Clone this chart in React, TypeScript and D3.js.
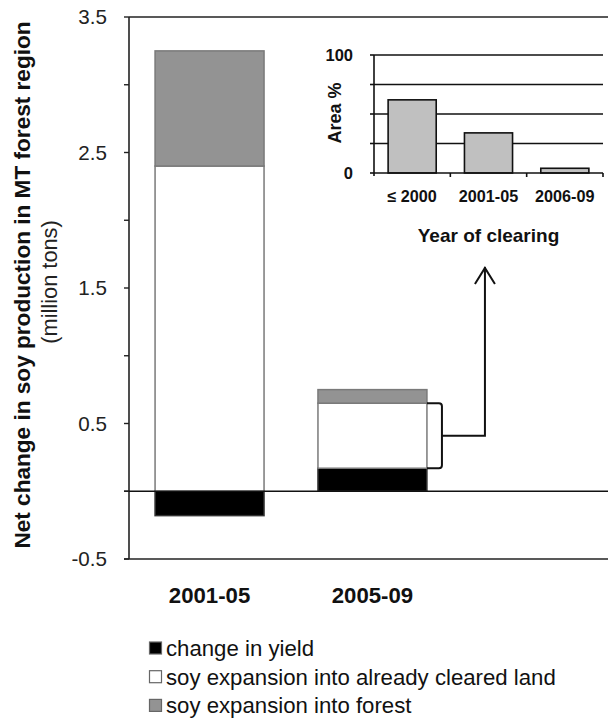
import React from "react";
import * as d3 from "d3";

// ---- Data ----
const periods = ["2001-05", "2005-09"];
const seriesKeys = ["yield", "cleared", "forest"];
const seriesLabels = [
  "change in yield",
  "soy expansion into already cleared land",
  "soy expansion into forest",
];
const yieldChange = [-0.18, 0.17];
const clearedExpansion = [2.4, 0.48];
const forestExpansion = [0.85, 0.1];
const yTicksMajor = [-0.5, 0.5, 1.5, 2.5, 3.5];
const yTicksAll = [-0.5, 0, 0.5, 1, 1.5, 2, 2.5, 3, 3.5];

const insetCategories = ["\u2264 2000", "2001-05", "2006-09"];
const insetValues = [62, 34, 4];
const insetTicks = [0, 25, 50, 75, 100];
const insetTickLabels = [0, 100];

const FONT = "Arial, 'Liberation Sans', Helvetica, sans-serif";
const seriesFill = ["#000000", "#ffffff", "#939393"];
const seriesStroke = ["#333333", "#7a7a7a", "#7a7a7a"];

export default function App() {
  const W = 608;
  const H = 719;

  const y = d3.scaleLinear().domain([-0.5, 3.5]).range([559, 17]);
  const x = d3
    .scaleBand<string>()
    .domain(periods)
    .range([129, 453])
    .paddingInner(0.331)
    .paddingOuter(0.16);

  const table = periods.map((p, i) => ({
    period: p,
    yield: yieldChange[i],
    cleared: clearedExpansion[i],
    forest: forestExpansion[i],
  }));
  const stacked = d3
    .stack<any>()
    .keys(seriesKeys)
    .offset(d3.stackOffsetDiverging)(table);

  // inset scales
  const iy = d3.scaleLinear().domain([0, 100]).range([173, 55]);
  const ix = d3
    .scaleBand<string>()
    .domain(insetCategories)
    .range([374, 603])
    .paddingInner(0.37)
    .paddingOuter(0.185);

  // bracket annotation geometry (around the cleared segment of 2nd bar)
  const b2 = stacked[1][1];
  const barRight = (x(periods[1]) as number) + x.bandwidth();
  const yTop = y(b2[1]);
  const yBot = y(b2[0]);
  const bx = barRight + 15;
  const r = 3;
  const bracketPath = `M${barRight},${yTop} H${bx - r} Q${bx},${yTop} ${bx},${yTop + r} V${yBot - r} Q${bx},${yBot} ${bx - r},${yBot} H${barRight}`;
  const midY = (yTop + yBot) / 2;
  const ax = barRight + 58;
  const arrowTip = 267;

  return (
    <svg
      width={W}
      height={H}
      style={{ position: "absolute", left: 0, top: 0, background: "#fff" }}
      fontFamily={FONT}
    >
      {/* y axis title */}
      <text
        transform={`translate(29.5,285) rotate(-90)`}
        textAnchor="middle"
        fontSize={22.6}
        fontWeight="bold"
        fill="#111"
      >
        Net change in soy production in MT forest region
      </text>
      <text
        transform={`translate(57,282) rotate(-90)`}
        textAnchor="middle"
        fontSize={21.8}
        fill="#222"
      >
        (million tons)
      </text>

      {/* bars */}
      {stacked.map((s, si) =>
        s.map((d, i) => {
          const x0 = x(periods[i]) as number;
          const top = y(Math.max(d[0], d[1]));
          const bot = y(Math.min(d[0], d[1]));
          return (
            <rect
              key={`${si}-${i}`}
              x={x0}
              y={top}
              width={x.bandwidth()}
              height={bot - top}
              fill={seriesFill[si]}
              stroke={seriesStroke[si]}
              strokeWidth={1.5}
            />
          );
        })
      )}

      {/* axes frame */}
      <line x1={129} x2={129} y1={y(3.5)} y2={y(-0.5)} stroke="#222" strokeWidth={1.6} />
      <line x1={129} x2={W} y1={y(3.5)} y2={y(3.5)} stroke="#222" strokeWidth={1.6} />
      <line x1={124} x2={W} y1={y(-0.5)} y2={y(-0.5)} stroke="#222" strokeWidth={1.6} />
      <line x1={124} x2={W} y1={y(0)} y2={y(0)} stroke="#111" strokeWidth={1.6} />
      {yTicksAll.map((t) => (
        <line key={t} x1={124} x2={129} y1={y(t)} y2={y(t)} stroke="#222" strokeWidth={1.4} />
      ))}
      {yTicksMajor.map((t) => (
        <text
          key={t}
          x={107}
          y={y(t)}
          dy="0.36em"
          textAnchor="end"
          fontSize={20.6}
          fill="#222"
        >
          {t.toFixed(1)}
        </text>
      ))}

      {/* category labels */}
      {periods.map((p) => (
        <text
          key={p}
          x={(x(p) as number) + x.bandwidth() / 2}
          y={603}
          textAnchor="middle"
          fontSize={22.2}
          fontWeight="bold"
          fill="#111"
        >
          {p}
        </text>
      ))}

      {/* bracket + arrow */}
      <path d={bracketPath} fill="none" stroke="#111" strokeWidth={2} />
      <path
        d={`M${bx},${midY} H${ax} V${arrowTip}`}
        fill="none"
        stroke="#111"
        strokeWidth={2}
      />
      <path
        d={`M${ax - 10},${arrowTip + 17} L${ax},${arrowTip + 1} L${ax + 10},${arrowTip + 17}`}
        fill="none"
        stroke="#111"
        strokeWidth={2}
      />

      {/* inset chart */}
      {insetTicks.slice(1).map((t) => (
        <line key={t} x1={374} x2={603} y1={iy(t)} y2={iy(t)} stroke="#111" strokeWidth={1.6} />
      ))}
      {insetTicks.map((t) => (
        <line key={"t" + t} x1={370} x2={374} y1={iy(t)} y2={iy(t)} stroke="#111" strokeWidth={1.6} />
      ))}
      {insetCategories.map((c, i) => (
        <rect
          key={c}
          x={ix(c) as number}
          y={iy(insetValues[i])}
          width={ix.bandwidth()}
          height={iy(0) - iy(insetValues[i])}
          fill="#c0c0c0"
          stroke="#111"
          strokeWidth={1.6}
        />
      ))}
      <line x1={374} x2={374} y1={iy(100)} y2={iy(0) + 3} stroke="#111" strokeWidth={1.6} />
      <line x1={374} x2={603} y1={iy(0)} y2={iy(0)} stroke="#111" strokeWidth={1.6} />
      {insetCategories.map((c) => {
        const xb = (ix(c) as number) + ix.bandwidth() + (ix.step() - ix.bandwidth()) / 2;
        return (
          <line key={"xt" + c} x1={xb} x2={xb} y1={iy(0)} y2={iy(0) + 4} stroke="#111" strokeWidth={1.6} />
        );
      })}
      {insetTickLabels.map((t) => (
        <text
          key={"l" + t}
          x={353}
          y={iy(t)}
          dy="0.36em"
          textAnchor="end"
          fontSize={16.5}
          fontWeight="bold"
          fill="#111"
        >
          {t}
        </text>
      ))}
      <text
        transform={`translate(341,113) rotate(-90)`}
        textAnchor="middle"
        fontSize={18}
        fontWeight="bold"
        fill="#111"
      >
        Area %
      </text>
      {insetCategories.map((c) => (
        <text
          key={"c" + c}
          x={(ix(c) as number) + ix.bandwidth() / 2}
          y={202}
          textAnchor="middle"
          fontSize={16.2}
          fontWeight="bold"
          fill="#111"
        >
          {c}
        </text>
      ))}
      <text x={488.5} y={241.5} textAnchor="middle" fontSize={19} fontWeight="bold" fill="#111">
        Year of clearing
      </text>

      {/* legend */}
      {seriesLabels.map((lab, i) => (
        <g key={lab} transform={`translate(149.5,${648 + i * 28.7})`}>
          <rect x={0} y={-6} width={12} height={12} fill={seriesFill[i]} stroke="#666" strokeWidth={1.2} />
          <text x={16.5} y={0} dy="0.36em" fontSize={22.2} fill="#111">
            {lab}
          </text>
        </g>
      ))}
    </svg>
  );
}
